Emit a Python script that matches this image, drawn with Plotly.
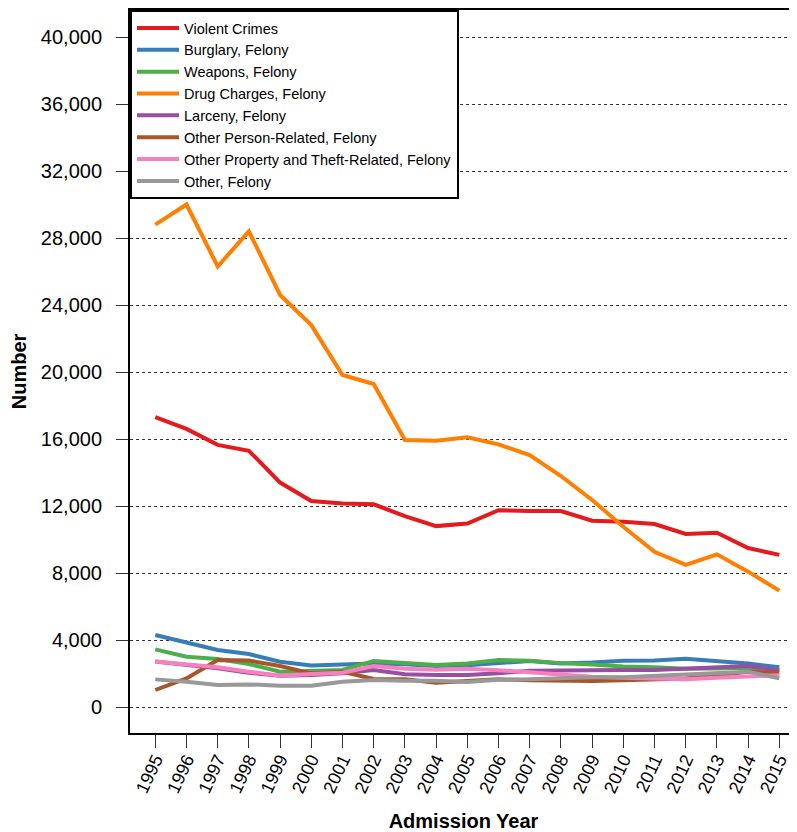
import plotly.graph_objects as go

years = list(range(1995, 2016))

violent = [17300, 16600, 15650, 15300, 13400, 12300, 12150, 12100, 11400, 10800,
           10950, 11750, 11700, 11700, 11120, 11060, 10920, 10330, 10400, 9490, 9080]
burglary = [4300, 3880, 3400, 3160, 2700, 2480, 2570, 2600, 2550, 2450,
            2500, 2600, 2750, 2600, 2650, 2760, 2780, 2880, 2760, 2600, 2370]
weapons = [3440, 3000, 2870, 2570, 2110, 2170, 2210, 2750, 2600, 2510,
           2600, 2800, 2760, 2620, 2540, 2420, 2370, 2290, 2300, 2350, 2230]
drugs = [28800, 30000, 26300, 28400, 24600, 22800, 19820, 19280, 15940, 15900,
         16100, 15680, 15040, 13790, 12360, 10760, 9270, 8480, 9115, 8080, 6950]
larceny = [2710, 2510, 2310, 2050, 1860, 1910, 2010, 2210, 1950, 1910,
           1910, 2010, 2170, 2180, 2170, 2210, 2210, 2270, 2370, 2450, 2180]
person = [1015, 1710, 2810, 2770, 2450, 2010, 2100, 1670, 1650, 1450,
          1550, 1650, 1600, 1550, 1550, 1600, 1650, 1700, 1900, 2100, 2050]
property_theft = [2710, 2570, 2370, 2110, 1860, 1970, 2050, 2450, 2290, 2230,
                  2290, 2200, 2050, 1950, 1800, 1750, 1700, 1650, 1750, 1800, 1900]
other = [1650, 1510, 1310, 1350, 1270, 1270, 1510, 1610, 1570, 1570,
         1500, 1620, 1650, 1710, 1770, 1770, 1850, 1910, 2010, 2110, 1710]

series_names = ["Violent Crimes", "Burglary, Felony", "Weapons, Felony",
                "Drug Charges, Felony", "Larceny, Felony",
                "Other Person-Related, Felony",
                "Other Property and Theft-Related, Felony", "Other, Felony"]
series_values = [violent, burglary, weapons, drugs, larceny, person,
                 property_theft, other]
colors = ["#E41A1C", "#377EB8", "#4DAF4A", "#FF7F00", "#984EA3", "#A65628",
          "#F781BF", "#999999"]

y_ticks = list(range(0, 40001, 4000))
y_tick_labels = [f"{v:,}" for v in y_ticks]

fig = go.Figure()
for name, vals, col in zip(series_names, series_values, colors):
    fig.add_trace(go.Scatter(x=years, y=vals, mode="lines", name=name,
                             line=dict(color=col, width=4)))

font_family = "Arial, Liberation Sans, sans-serif"

# page body has an 8px margin, so the figure is shifted by 8px
fig.update_layout(
    width=789, height=824,
    margin=dict(l=122, r=0, t=2, b=99),
    paper_bgcolor="white", plot_bgcolor="white",
    font=dict(family=font_family, color="black"),
    showlegend=True,
    legend=dict(x=0, y=1, xanchor="left", yanchor="top",
                bordercolor="black", borderwidth=2, bgcolor="white",
                font=dict(size=14.5, family=font_family), tracegroupgap=0,
                itemwidth=42),
)

fig.update_xaxes(
    range=[1994.19, 2015.567],
    tickmode="array", tickvals=years, ticktext=[str(y) for y in years],
    tickangle=-65, tickfont=dict(size=18), ticklabelstandoff=-6,
    ticks="outside", ticklen=13, tickcolor="#333", tickwidth=1,
    showline=True, linecolor="black", linewidth=2, mirror=True,
    showgrid=False, zeroline=False,
    title=dict(text="<b>Admission Year</b>", font=dict(size=20), standoff=22),
    automargin=False,
)
fig.update_yaxes(
    range=[-1552, 41612],
    tickmode="array", tickvals=y_ticks, ticktext=y_tick_labels,
    tickfont=dict(size=20), ticklabelstandoff=10,
    ticks="outside", ticklen=12, tickcolor="#333", tickwidth=1,
    showline=True, linecolor="black", linewidth=2, mirror=False,
    showgrid=True, gridcolor="#333", griddash="dot", gridwidth=1,
    zeroline=False,
    title=dict(text="<b>Number</b>", font=dict(size=20), standoff=14),
    automargin=False,
)

fig.write_html("out.html")
